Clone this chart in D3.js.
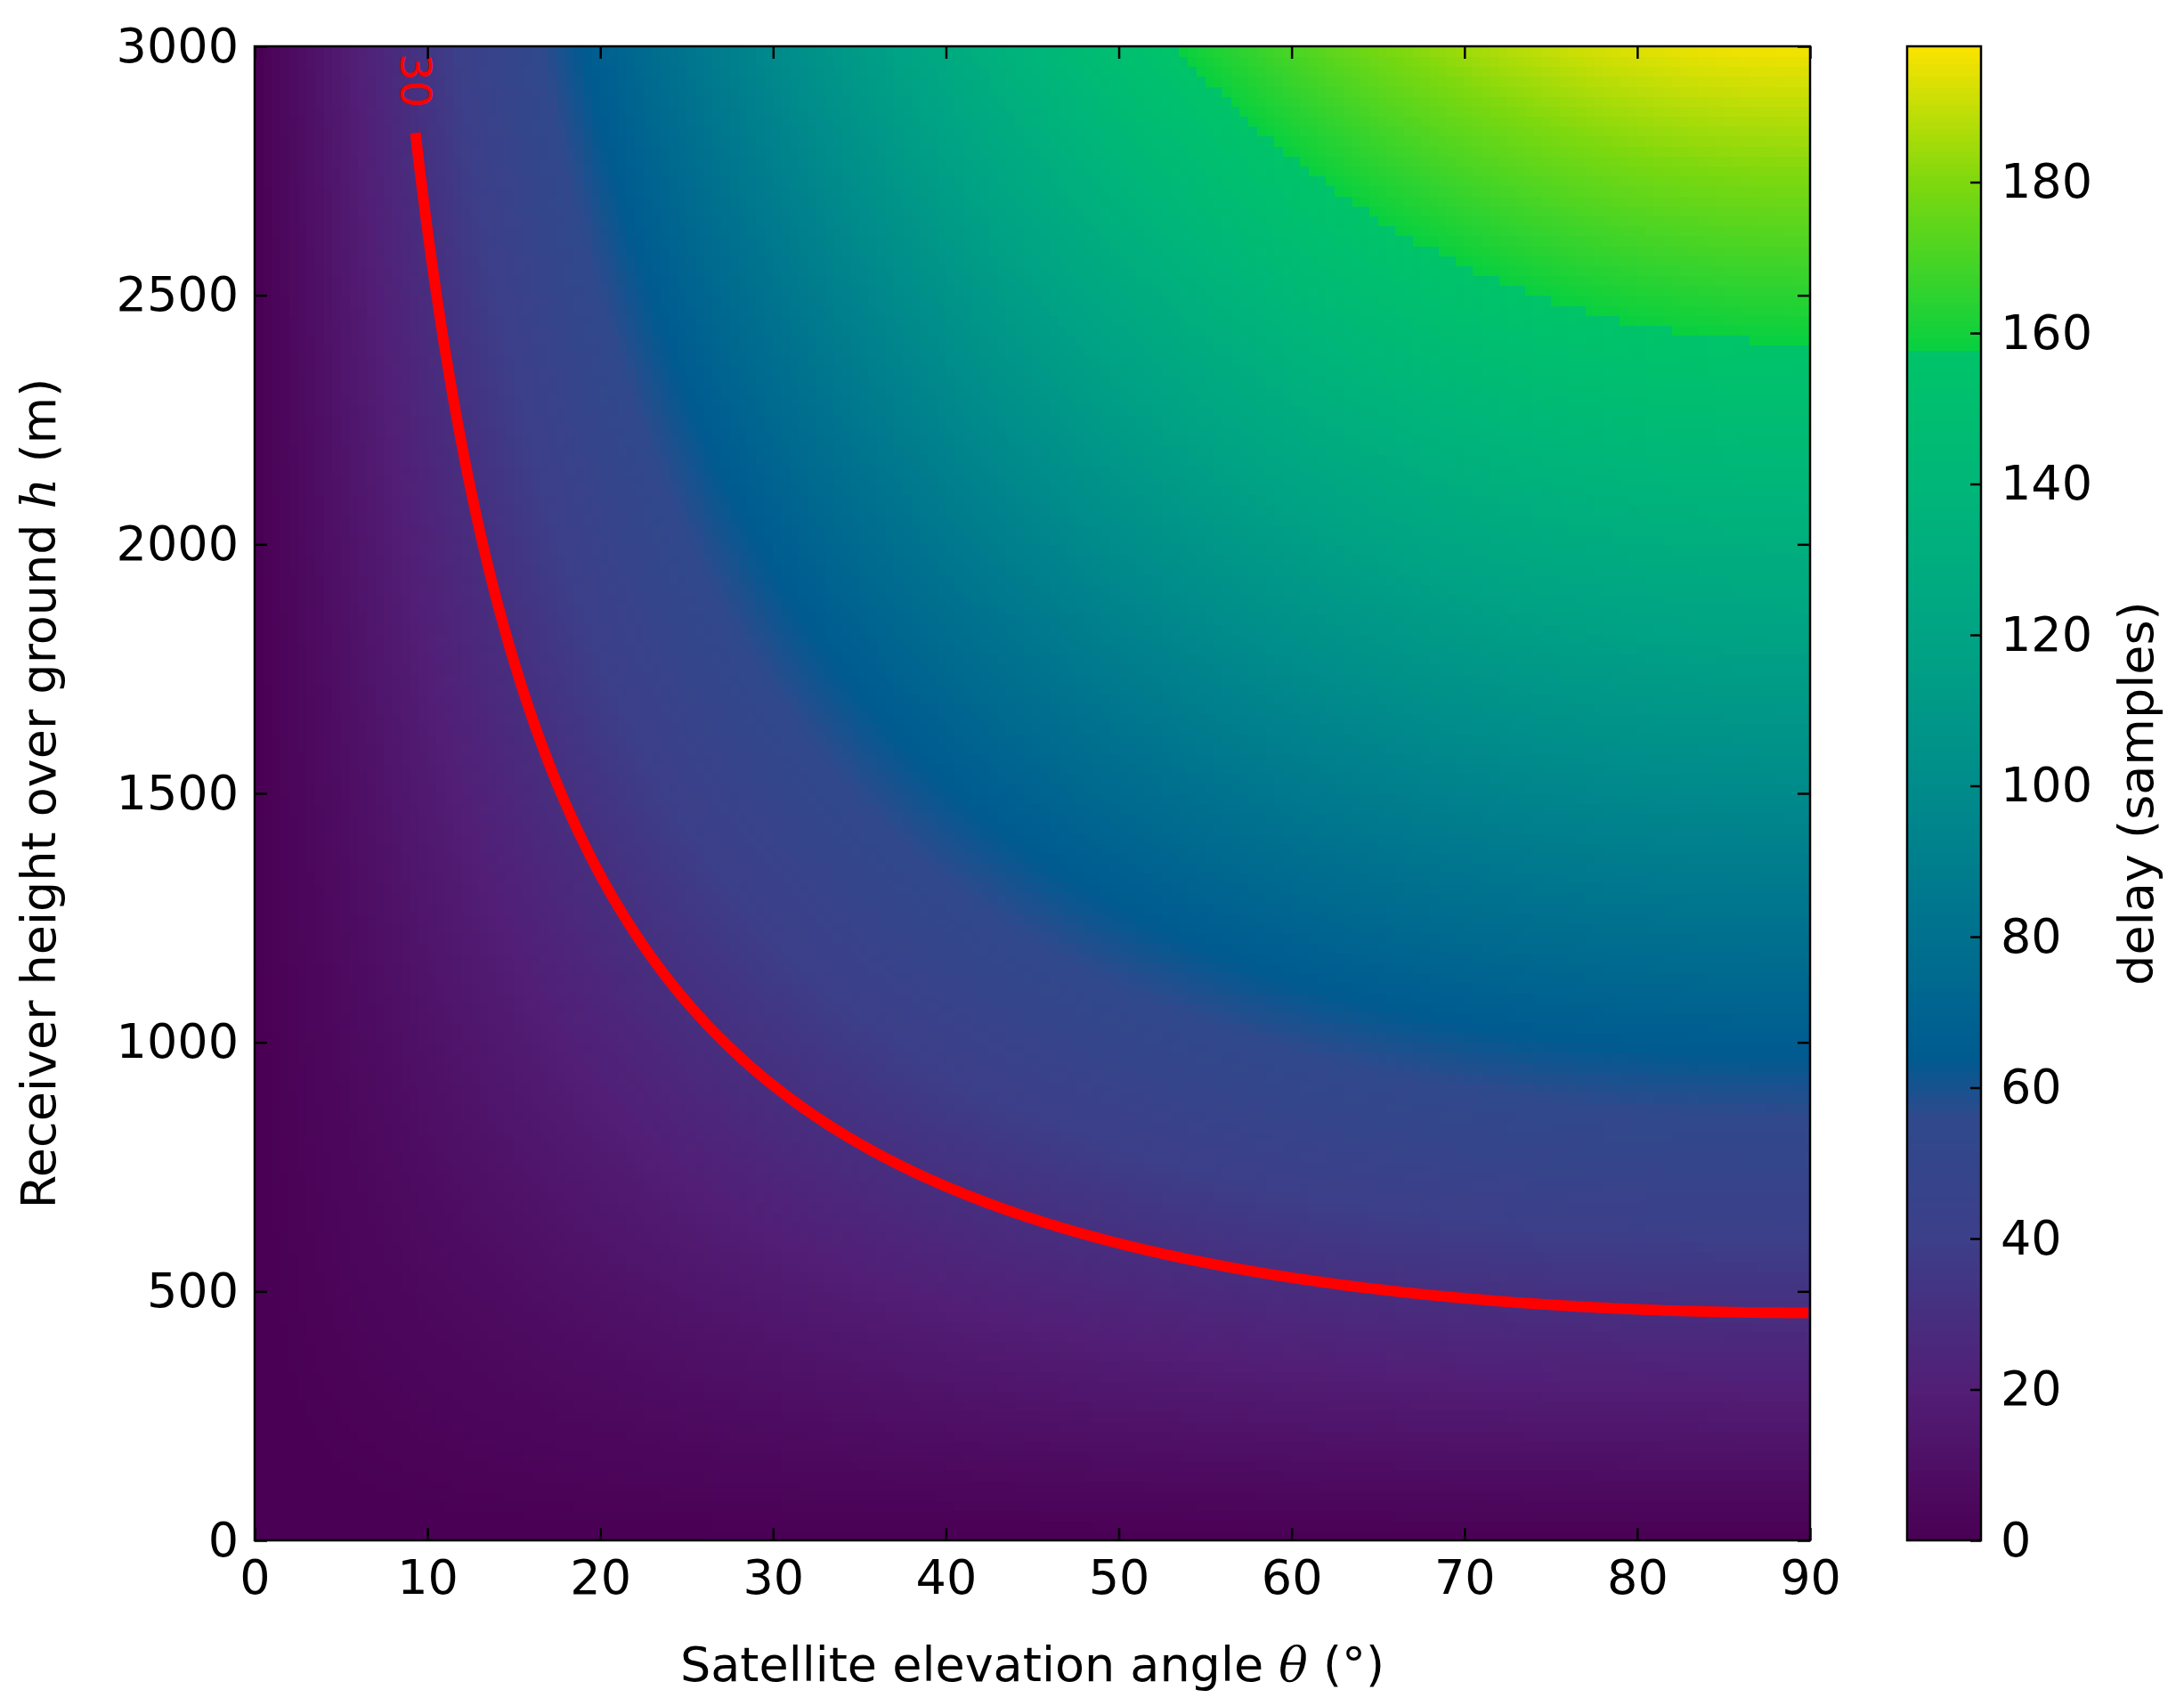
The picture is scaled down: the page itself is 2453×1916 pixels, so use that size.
<!DOCTYPE html>
<html><head><meta charset="utf-8">
<script src="https://cdn.jsdelivr.net/npm/d3@7"></script>
<style>body{margin:0;background:#fff}text{font-family:"DejaVu Sans",sans-serif}</style>
</head><body>
<svg id="c" width="2453" height="1916"></svg>
<script>
// values
const xTicks = [0,10,20,30,40,50,60,70,80,90];
const yTicks = [0,500,1000,1500,2000,2500,3000];
const cbTicks = [0,20,40,60,80,100,120,140,160,180];
const delayAtTop = 197;        // delay (samples) at theta=90°, h=3000 m
const contourLevel = 30;
const nTheta = 180, nH = 150;
// colormap stops as seen in the colorbar (value, colour); repeated values are jumps
const cmapVals = [0, 20, 40, 56, 64, 80, 100, 120, 140, 158, 158, 180, 198];
const cmapCols = ["#4a0054","#521e76","#3c3f89","#30498c","#005b90","#00718f","#008c8b","#00a484","#00b679","#00c468","#08d040","#7ed80e","#fce300"];

const svg = d3.select("#c");
const L=286, R=2033, T=52, B=1730;
const x = d3.scaleLinear().domain([0,90]).range([L,R]);
const y = d3.scaleLinear().domain([0,3000]).range([B,T]);
const cmax = 198;
const color = v => {
  for(let i=0;i<cmapVals.length-1;i++){
    if(v<=cmapVals[i+1] && cmapVals[i+1]>cmapVals[i] && v>=cmapVals[i])
      return d3.interpolateRgb(cmapCols[i],cmapCols[i+1])((v-cmapVals[i])/(cmapVals[i+1]-cmapVals[i]));
  }
  return v<0?cmapCols[0]:cmapCols[cmapCols.length-1];
};
const delay = (th,h)=> delayAtTop*(h/3000)*Math.sin(th*Math.PI/180);

const cells=[];
for(let i=0;i<nTheta;i++)for(let j=0;j<nH;j++){
  const t0=i*90/nTheta,t1=(i+1)*90/nTheta,h0=j*3000/nH,h1=(j+1)*3000/nH;
  cells.push({t0,t1,h0,h1,v:delay((t0+t1)/2,(h0+h1)/2)});
}
svg.append("g").attr("shape-rendering","crispEdges").selectAll("rect").data(cells).join("rect")
 .attr("x",d=>x(d.t0)).attr("width",d=>x(d.t1)-x(d.t0)+0.8)
 .attr("y",d=>y(d.h1)).attr("height",d=>y(d.h0)-y(d.h1)+0.8)
 .attr("fill",d=>color(d.v));

// contour
const thStart = Math.asin(contourLevel*3000/(delayAtTop*2826))*180/Math.PI;
const pts=d3.range(thStart,90.001,0.2).map(t=>[t,contourLevel*3000/(delayAtTop*Math.sin(t*Math.PI/180))]);
svg.append("path").datum(pts).attr("fill","none").attr("stroke","#ff0000").attr("stroke-width",12)
 .attr("d",d3.line().x(d=>x(d[0])).y(d=>y(d[1])));
svg.append("text").attr("transform",`translate(${x(thStart)-17},${T+8}) rotate(90)`)
 .attr("fill","#ff0000").attr("font-size",48).text("30");

svg.append("rect").attr("x",L).attr("y",T).attr("width",R-L).attr("height",B-T).attr("fill","none").attr("stroke","#000").attr("stroke-width",2.5);

const fs=54, fmt=d3.format("d");
const gx=svg.append("g").attr("transform",`translate(0,${B})`).call(d3.axisBottom(x).tickValues(xTicks).tickSize(-14).tickPadding(22).tickFormat(fmt));
const gx2=svg.append("g").attr("transform",`translate(0,${T})`).call(d3.axisTop(x).tickValues(xTicks).tickSize(-14).tickFormat(""));
const gy=svg.append("g").attr("transform",`translate(${L},0)`).call(d3.axisLeft(y).tickValues(yTicks).tickSize(-14).tickPadding(18).tickFormat(fmt));
const gy2=svg.append("g").attr("transform",`translate(${R},0)`).call(d3.axisRight(y).tickValues(yTicks).tickSize(-14).tickFormat(""));
[gx,gx2,gy,gy2].forEach(g=>{g.select(".domain").remove();g.selectAll("line").attr("stroke-width",2.5);g.selectAll("text").attr("font-size",fs).attr("font-family","DejaVu Sans").attr("fill","#000");});

svg.append("text").attr("x",(L+R)/2).attr("y",1888).attr("text-anchor","middle").attr("font-size",fs)
 .html('Satellite elevation angle <tspan font-style="italic" font-family="DejaVu Serif">θ</tspan> (°)');
svg.append("text").attr("transform",`translate(62,${(T+B)/2}) rotate(-90)`).attr("text-anchor","middle").attr("font-size",fs)
 .html('Receiver height over ground <tspan font-style="italic" font-family="DejaVu Serif">h</tspan> (m)');

// colorbar
const CL=2142, CR=2225;
const cy=d3.scaleLinear().domain([0,cmax]).range([B,T]);
const steps=d3.range(0,cmax,cmax/256);
svg.append("g").attr("shape-rendering","crispEdges").selectAll("rect").data(steps).join("rect").attr("x",CL).attr("width",CR-CL)
 .attr("y",d=>cy(d+cmax/256)).attr("height",d=>cy(d)-cy(d+cmax/256)+0.8).attr("fill",d=>color(d+cmax/512));
svg.append("rect").attr("x",CL).attr("y",T).attr("width",CR-CL).attr("height",B-T).attr("fill","none").attr("stroke","#000").attr("stroke-width",2.5);
const gc=svg.append("g").attr("transform",`translate(${CR},0)`).call(d3.axisRight(cy).tickValues(cbTicks).tickSize(-12).tickPadding(22));
gc.select(".domain").remove();gc.selectAll("line").attr("stroke-width",2.5);gc.selectAll("text").attr("font-size",fs).attr("fill","#000");
svg.append("text").attr("transform",`translate(2418,${(T+B)/2}) rotate(-90)`).attr("text-anchor","middle").attr("font-size",fs).text("delay (samples)");
</script></body></html>
